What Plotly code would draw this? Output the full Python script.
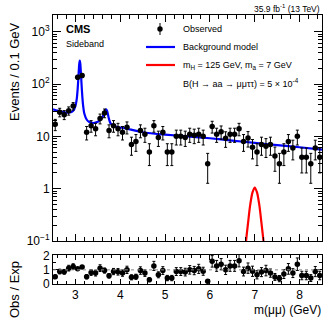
import numpy as np
import plotly.graph_objects as go

# ---------------- data ----------------
bin_centers = [2.55, 2.65, 2.75, 2.85, 2.95, 3.05, 3.15, 3.25, 3.35, 3.45,
               3.55, 3.65, 3.75, 3.85, 3.95, 4.05, 4.15, 4.25, 4.35, 4.45,
               4.55, 4.65, 4.75, 4.85, 4.95, 5.05, 5.15, 5.25, 5.35, 5.45,
               5.55, 5.65, 5.75, 5.85, 5.95, 6.05, 6.15, 6.25, 6.35, 6.45,
               6.55, 6.65, 6.75, 6.85, 6.95, 7.05, 7.15, 7.25, 7.35, 7.45,
               7.55, 7.65, 7.75, 7.85, 7.95, 8.05, 8.15, 8.25, 8.35, 8.45]
observed = [17, 29, 26, 31, 38, 135, 145, 12, 16, 14,
            22, 28, 13, 16, 14, 12, 15, 7, 8, 13,
            11, 5, 16, 9.5, 12, 5, 5, 10, 10, 9.5,
            11, 10.5, 11, 10, 3, 15.5, 11, 12.3, 9.2, 11,
            11, 14, 8, 9.3, 6.2, 5, 7, 6.5, 7, 4.2,
            3, 5, 8, 6, 10, 4, 4, 3, 6, 4]
ratio = [0.51, 0.88, 0.86, 1.12, 1.23, 1.07, 1.2, 0.51, 0.81, 0.77,
         1.12, 0.95, 0.58, 0.88, 0.86, 0.77, 1.0, 0.47, 0.51, 0.95,
         0.77, 0.3, 1.28, 0.65, 0.95, 0.42, 0.42, 0.88, 0.88, 0.84,
         1.0, 0.95, 1.07, 0.9, 0.2, 1.6, 1.28, 1.4, 1.0, 1.28,
         1.28, 1.65, 0.88, 1.12, 0.9, 0.65, 0.84, 0.95, 0.77, 0.5,
         0.38, 0.7, 1.07, 0.77, 1.4, 0.6, 0.6, 0.42, 0.88, 0.6]

bkg_mass = [2.5, 2.6, 2.7, 2.8, 2.9, 2.95, 3.0, 3.03, 3.05, 3.07, 3.085, 3.097,
            3.11, 3.125, 3.145, 3.17, 3.2, 3.25, 3.3, 3.4, 3.5, 3.55, 3.6,
            3.63, 3.66, 3.686, 3.71, 3.74, 3.78, 3.85, 3.95, 4.1, 4.5, 5.0,
            5.5, 6.0, 6.5, 7.0, 7.5, 8.0, 8.5]
bkg_model = [33, 31, 29.5, 28.5, 29, 31, 38, 52, 80, 150, 240, 280,
             240, 150, 75, 40, 27, 21, 19, 18, 19, 20.5, 23,
             27, 31.5, 33, 30, 23, 18, 16, 15, 14.3, 12.0, 10.8,
             10.0, 9.2, 8.3, 7.5, 6.8, 6.2, 5.6]

sig_mass = [6.75, 6.8, 6.85, 6.9, 6.95, 7.0, 7.05, 7.1, 7.15, 7.2, 7.25]
sig_model = [0.03, 0.09, 0.22, 0.50, 0.85, 1.05, 0.85, 0.50, 0.22, 0.09, 0.03]

y_tick_vals = [0.1, 1, 10, 100, 1000]
y_tick_text = ["10<sup>−1</sup>", "1", "10", "10<sup>2</sup>", "10<sup>3</sup>"]
x_tick_vals = [3, 4, 5, 6, 7, 8]

# ---------------- figure ----------------
obs = np.array(observed, dtype=float)
obs_err = np.sqrt(obs)
rat = np.array(ratio)
rat_err = rat / np.sqrt(obs)

FONT = "Liberation Sans, Arial, Helvetica, sans-serif"
fig = go.Figure()

fig.add_trace(go.Scatter(x=bkg_mass, y=bkg_model, mode="lines", line=dict(color="#0000ff", width=2.2, shape="spline", smoothing=0.6),
                         xaxis="x", yaxis="y", showlegend=False, hoverinfo="skip"))
fig.add_trace(go.Scatter(x=sig_mass, y=sig_model, mode="lines", line=dict(color="#ff0000", width=2.2, shape="spline", smoothing=0.8),
                         xaxis="x", yaxis="y", showlegend=False, hoverinfo="skip"))
fig.add_trace(go.Scatter(x=bin_centers, y=observed, mode="markers",
                         marker=dict(color="black", size=5.5),
                         error_y=dict(type="data", array=obs_err, color="black", thickness=1, width=1.5),
                         xaxis="x", yaxis="y", showlegend=False))
fig.add_trace(go.Scatter(x=bin_centers, y=ratio, mode="markers",
                         marker=dict(color="black", size=5.5),
                         error_y=dict(type="data", array=rat_err, color="black", thickness=1, width=1.5),
                         xaxis="x2", yaxis="y2", showlegend=False))

L, R, T, B = 53, 10, 15, 35
W, H = 332, 319
ph = H - T - B
pw = W - L - R

def px(xp):
    return (xp - L) / pw

def py(yp):
    return (H - B - yp) / ph

up_bottom = py(241)
rt_top = py(255)

minor_log = []
for e in range(-1, 4):
    for m in range(2, 10):
        v = m * 10 ** e
        if v < 2100:
            minor_log.append(v)
minor_x = [round(v, 2) for v in np.arange(2.6, 8.5, 0.2)]

axis_common = dict(showline=True, linecolor="black", linewidth=1, mirror="allticks",
                   ticks="inside", tickcolor="black", showgrid=False, zeroline=False,
                   tickfont=dict(family=FONT, size=12, color="black"))

fig.update_layout(
    width=W, height=H,
    margin=dict(l=L, r=R, t=T, b=B),
    paper_bgcolor="white", plot_bgcolor="white",
    xaxis=dict(domain=[0, 1], range=[2.5, 8.5], anchor="y", matches="x2", showticklabels=False,
               tickvals=x_tick_vals, ticklen=7,
               minor=dict(tickvals=minor_x, ticklen=4, ticks="inside", tickcolor="black"),
               **axis_common),
    yaxis=dict(domain=[up_bottom, 1], type="log", range=[-1, 3.32], anchor="x",
               tickvals=y_tick_vals, ticktext=y_tick_text, ticklen=8,
               minor=dict(tickvals=minor_log, ticklen=4, ticks="inside", tickcolor="black"),
               **axis_common),
    xaxis2=dict(domain=[0, 1], range=[2.5, 8.5], anchor="y2",
                tickvals=x_tick_vals, ticklen=5,
                minor=dict(tickvals=minor_x, ticklen=3, ticks="inside", tickcolor="black"),
                **axis_common),
    yaxis2=dict(domain=[0, rt_top], range=[0, 2.05], anchor="x2",
                tickvals=[0, 1, 2], ticklen=7,
                minor=dict(tickvals=[0.5, 1.5], ticklen=3, ticks="inside", tickcolor="black"),
                **axis_common),
)

fig.add_shape(type="line", xref="x2", yref="y2", x0=2.5, x1=8.5, y0=1, y1=1,
              line=dict(color="#888888", width=1, dash="dot"))

def text(x, y, s, size, xanchor="left", bold=False, textangle=0, yanchor="middle"):
    fig.add_annotation(x=px(x), y=py(y), xref="paper", yref="paper", text=("<b>%s</b>" % s) if bold else s,
                       showarrow=False, xanchor=xanchor, yanchor=yanchor, textangle=textangle,
                       font=dict(family=FONT, size=size, color="black"))

text(322, 8, "35.9 fb<sup>-1</sup> (13 TeV)", 8.5, xanchor="right")
text(64, 29, "CMS", 11, bold=True)
text(64, 44, "Sideband", 9)
text(181, 29, "Observed", 9)
text(181, 47, "Background model", 9)
text(181, 65, "m<sub>H</sub> = 125 GeV, m<sub>a</sub> = 7 GeV", 9)
text(181, 83, "B(H → aa → μμττ) = 5 × 10<sup>-4</sup>", 9)
text(14, 72, "Events / 0.1 GeV", 13, xanchor="center", textangle=-90)
text(14, 290, "Obs / Exp", 13, xanchor="center", textangle=-90)
text(323, 310, "m(μμ) (GeV)", 12, xanchor="right")

# legend symbols
fig.add_shape(type="line", xref="paper", yref="paper", x0=px(160), x1=px(160), y0=py(23), y1=py(35),
              line=dict(color="black", width=1))
fig.add_shape(type="circle", xref="paper", yref="paper", x0=px(157.3), x1=px(162.7), y0=py(26.3), y1=py(31.7),
              fillcolor="black", line=dict(color="black", width=0))
fig.add_shape(type="line", xref="paper", yref="paper", x0=px(146), x1=px(175), y0=py(47), y1=py(47),
              line=dict(color="#0000ff", width=2.2))
fig.add_shape(type="line", xref="paper", yref="paper", x0=px(146), x1=px(175), y0=py(65), y1=py(65),
              line=dict(color="#ff0000", width=2.2))

fig.write_html("out.html", config={"displayModeBar": False},
               post_script="document.body.style.margin='0px';document.body.style.overflow='hidden';")
